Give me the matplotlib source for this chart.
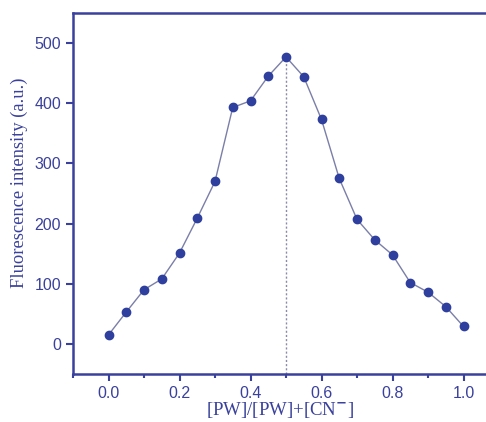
import matplotlib
matplotlib.use("Agg")
import matplotlib.pyplot as plt
from matplotlib.ticker import MultipleLocator

x_ratio = [0.0, 0.05, 0.1, 0.15, 0.2, 0.25, 0.3, 0.35, 0.4, 0.45, 0.5,
           0.55, 0.6, 0.65, 0.7, 0.75, 0.8, 0.85, 0.9, 0.95, 1.0]
intensity = [15, 53, 90, 108, 151, 209, 270, 393, 404, 445, 477,
             444, 373, 275, 207, 173, 148, 102, 86, 62, 29]
peak_x = 0.5
peak_y = 477

blue = "#3a419c"
marker_c = "#2e3f9e"
line_c = "#7a7fa8"

fig = plt.figure(figsize=(4.86, 4.22), dpi=100)
ax = fig.add_axes([73/486, 1-374/422, 426/486, (374-13)/422])

ax.plot(x_ratio, intensity, color=line_c, lw=1.0, zorder=2)
ax.plot(x_ratio, intensity, 'o', color=marker_c, ms=6, mec=marker_c, zorder=3, linestyle='none')
ax.plot([peak_x, peak_x], [-50, peak_y], linestyle=(0, (1.5, 1.5)), color="#8a8aa8", lw=1.0, zorder=1)

ax.set_xlim(-0.1, 1.1)
ax.set_ylim(-50, 550)
ax.xaxis.set_minor_locator(MultipleLocator(0.1))
ax.yaxis.set_major_locator(MultipleLocator(100))
ax.set_xticks([0.0, 0.2, 0.4, 0.6, 0.8, 1.0])
ax.set_xticklabels(["0.0", "0.2", "0.4", "0.6", "0.8", "1.0"])

for s in ax.spines.values():
    s.set_color(blue)
    s.set_linewidth(1.8)
ax.spines['right'].set_visible(False)

ax.tick_params(axis='both', which='major', direction='out', length=5, width=1.5,
               colors=blue, labelsize=11.5)
ax.tick_params(axis='x', which='minor', direction='out', length=3, width=1.5, colors=blue)
for lab in ax.get_xticklabels() + ax.get_yticklabels():
    lab.set_family("Liberation Sans")

ax.set_ylabel("Fluorescence intensity (a.u.)", family="Liberation Serif", fontsize=13.3,
              color=blue)
ax.yaxis.set_label_coords(-0.106, 0.529)
ax.set_xlabel(r"[PW]/[PW]+[CN$^{\mathbf{-}}$]", family="Liberation Serif", fontsize=13.5,
              color=blue)
ax.xaxis.set_label_coords(0.486, -0.075)

fig.savefig("out.png", dpi=100)
